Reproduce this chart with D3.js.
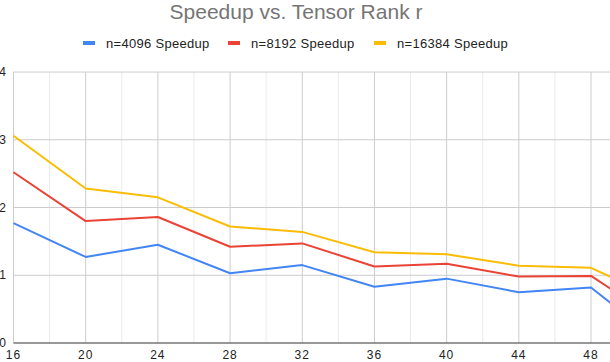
<!DOCTYPE html>
<html>
<head>
<meta charset="utf-8">
<script src="https://cdn.jsdelivr.net/npm/d3@7"></script>
<style>
  body { margin: 0; background: #fff; }
  svg { display: block; font-family: "Liberation Sans", Arial, sans-serif; }
</style>
</head>
<body>
<div id="chart"></div>
<script>
// Tensor rank r (last point lies past the visible right edge)
const ranks = [16, 20, 24, 28, 32, 36, 40, 44, 48, 50];
const speedup4096 = [1.77, 1.27, 1.45, 1.03, 1.15, 0.83, 0.95, 0.75, 0.82, 0.40];
const speedup8192 = [2.52, 1.80, 1.86, 1.42, 1.47, 1.13, 1.17, 0.98, 0.99, 0.64];
const speedup16384 = [3.06, 2.28, 2.15, 1.72, 1.64, 1.34, 1.31, 1.14, 1.11, 0.86];
const seriesNames = ["n=4096 Speedup", "n=8192 Speedup", "n=16384 Speedup"];
const seriesColors = ["#4285f4", "#ea4335", "#fbbc04"];
const xTicks = [16, 20, 24, 28, 32, 36, 40, 44, 48];
const xMinor = [18, 22, 26, 30, 34, 38, 42, 46];
const yTicks = [0, 1, 2, 3, 4];

const W = 610, H = 362;
const margin = { top: 72, left: 13.5, bottom: 19 };

const svg = d3.select("#chart").append("svg")
    .attr("width", W)
    .attr("height", H);

// scales
const x = d3.scaleLinear().domain([16, 48]).range([margin.left, 591]);
const y = d3.scaleLinear().domain([0, 4]).range([H - margin.bottom, margin.top]);

// minor vertical gridlines
svg.append("g").selectAll("line")
    .data(xMinor)
    .join("line")
    .attr("x1", d => x(d)).attr("x2", d => x(d))
    .attr("y1", y(0)).attr("y2", y(4))
    .attr("stroke", "#ebebeb");

// major vertical gridlines
svg.append("g").selectAll("line")
    .data(xTicks)
    .join("line")
    .attr("x1", d => x(d)).attr("x2", d => x(d))
    .attr("y1", y(0)).attr("y2", y(4))
    .attr("stroke", "#cccccc");

// horizontal gridlines
svg.append("g").selectAll("line")
    .data(yTicks.filter(d => d > 0))
    .join("line")
    .attr("x1", x(16)).attr("x2", W)
    .attr("y1", d => y(d)).attr("y2", d => y(d))
    .attr("stroke", "#cccccc");

// y tick labels
svg.append("g").selectAll("text")
    .data(yTicks)
    .join("text")
    .attr("x", 6)
    .attr("y", d => y(d))
    .attr("dy", "0.35em")
    .attr("text-anchor", "end")
    .attr("font-size", 12)
    .attr("fill", "#222")
    .text(d => d);

// x axis line
svg.append("line")
    .attr("x1", x(16)).attr("x2", W)
    .attr("y1", y(0)).attr("y2", y(0))
    .attr("stroke", "#333");

// x tick labels
svg.append("g").selectAll("text")
    .data(xTicks)
    .join("text")
    .attr("x", d => x(d))
    .attr("y", H - 3)
    .attr("text-anchor", "middle")
    .attr("font-size", 12)
    .attr("letter-spacing", 1)
    .attr("fill", "#222")
    .text(d => d);

// series lines
const allSeries = [speedup4096, speedup8192, speedup16384];
const line = d3.line()
    .x((d, i) => x(ranks[i]))
    .y(d => y(d));

svg.append("g").selectAll("path")
    .data(allSeries)
    .join("path")
    .attr("fill", "none")
    .attr("stroke", (d, i) => seriesColors[i])
    .attr("stroke-width", 2)
    .attr("stroke-linejoin", "round")
    .attr("d", line);

// title
svg.append("text")
    .attr("x", 296)
    .attr("y", 19)
    .attr("text-anchor", "middle")
    .attr("font-size", 21)
    .attr("fill", "#757575")
    .text("Speedup vs. Tensor Rank r");

// legend
const legendX = [83, 228, 374];
const legend = svg.append("g").selectAll("g")
    .data(seriesNames)
    .join("g")
    .attr("transform", (d, i) => "translate(" + legendX[i] + ",43)");

legend.append("rect")
    .attr("x", 0).attr("y", -2)
    .attr("width", 12).attr("height", 4)
    .attr("fill", (d, i) => seriesColors[i]);

legend.append("text")
    .attr("x", 23)
    .attr("dy", "0.35em")
    .attr("font-size", 13)
    .attr("letter-spacing", 0.3)
    .attr("fill", "#222")
    .text(d => d);
</script>
</body>
</html>
